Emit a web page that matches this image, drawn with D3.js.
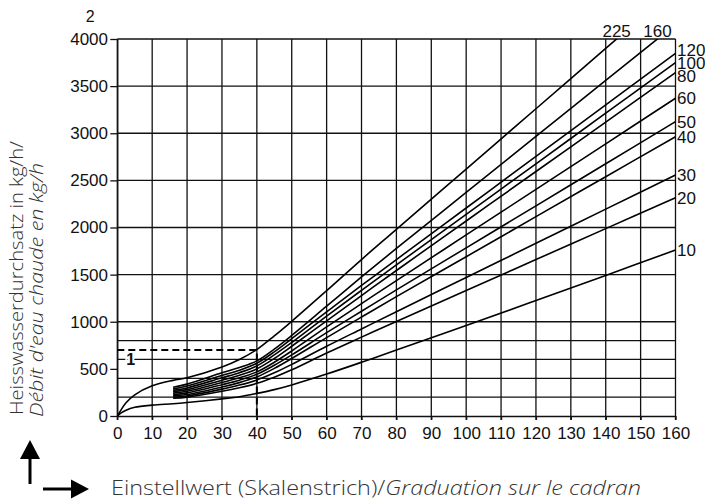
<!DOCTYPE html>
<html>
<head>
<meta charset="utf-8">
<script src="https://d3js.org/d3.v7.min.js"></script>
<style>
  body { margin: 0; background: #fff; }
  .num { font-family: "Liberation Sans", Arial, sans-serif; font-size: 17px; fill: #111; }
  .title { font-family: "Open Sans", sans-serif; font-weight: 300; fill: #333; }
</style>
</head>
<body>
<svg id="chart" width="705" height="500"></svg>
<script>
var settings = [0, 1, 2.5, 5, 10, 16, 20, 30, 35, 40, 45, 50, 60, 70, 80, 100, 120, 140, 160];

// hot water flow in kg/h for each presetting (null = curve not drawn there)
var flow225 = [0, 60, 140, 225, 320, 378, 406, 520, 600, 705, 850, 1005, 1330, 1660, 1980, 2620, 3260, 3900, 4540];
var flow160 = [null, null, null, null, null, 305, 338, 458, 515, 585, 710, 855, 1165, 1475, 1778, 2372, 2966, 3560, 4154];
var flow120 = [null, null, null, null, null, 288, 318, 430, 485, 560, 680, 820, 1105, 1385, 1660, 2207, 2754, 3301, 3848];
var flow100 = [null, null, null, null, null, 272, 298, 405, 460, 532, 648, 780, 1060, 1333, 1603, 2140, 2676, 3213, 3749];
var flow80  = [null, null, null, null, null, 258, 280, 380, 432, 500, 610, 740, 1010, 1278, 1544, 2069, 2594, 3118, 3643];
var flow60  = [null, null, null, null, null, 243, 262, 355, 405, 468, 570, 690, 945, 1192, 1437, 1921, 2404, 2888, 3371];
var flow50  = [null, null, null, null, null, 228, 245, 332, 380, 442, 538, 648, 884, 1112, 1338, 1784, 2230, 2677, 3123];
var flow40  = [null, null, null, null, null, 214, 228, 308, 354, 415, 505, 610, 832, 1050, 1266, 1690, 2115, 2539, 2963];
var flow30  = [null, null, null, null, null, 201, 213, 285, 328, 382, 458, 548, 740, 924, 1107, 1470, 1832, 2195, 2557];
var flow20  = [null, null, null, null, null, 188, 200, 262, 300, 347, 412, 490, 668, 837, 1003, 1332, 1660, 1988, 2316];
var flow10  = [0, 30, 62, 92, 115, 130, 143, 182, 205, 240, 280, 330, 445, 570, 700, 960, 1225, 1492, 1761];

var curveNames = ["225", "160", "120", "100", "80", "60", "50", "40", "30", "20", "10"];
var curveFlows = [flow225, flow160, flow120, flow100, flow80, flow60, flow50, flow40, flow30, flow20, flow10];

var xTicks = d3.range(0, 161, 10);
var yTicks = [0, 500, 1000, 1500, 2000, 2500, 3000, 3500, 4000];
var yGrid = [200, 400, 600, 800, 1000, 1500, 2000, 2500, 3000, 3500, 4000];

// example reading "1": setting 40 -> 700 kg/h
var exampleSetting = 40;
var exampleFlow = 700;

var svgWidth = 705, svgHeight = 500;
var margin = { top: 39, right: 29.5, bottom: 84, left: 117.3 };
var width = svgWidth - margin.left - margin.right;
var height = svgHeight - margin.top - margin.bottom;

var svg = d3.select("#chart");
var g = svg.append("g").attr("transform", `translate(${margin.left}, ${margin.top})`);

var x = d3.scaleLinear().domain([0, 160]).range([0, width]);
var y = d3.scaleLinear().domain([0, 4000]).range([height, 0]);

// grid
g.append("g").selectAll("line").data(xTicks).enter().append("line")
  .attr("x1", d => x(d)).attr("x2", d => x(d))
  .attr("y1", y(0) + 4).attr("y2", y(4000))
  .attr("stroke", "#111").attr("stroke-width", 1.3);

g.append("g").selectAll("line").data(yGrid).enter().append("line")
  .attr("x1", x(0)).attr("x2", x(160))
  .attr("y1", d => y(d)).attr("y2", d => y(d))
  .attr("stroke", "#111").attr("stroke-width", 1.3);

// axes
var leftAxis = d3.axisLeft(y).tickValues(yTicks).tickFormat(d3.format("d"))
  .tickSize(7).tickSizeOuter(0).tickPadding(2.3);
var bottomAxis = d3.axisBottom(x).tickValues(xTicks).tickFormat(d3.format("d"))
  .tickSize(4).tickSizeOuter(0).tickPadding(7);

var ya = g.append("g").call(leftAxis);
var xa = g.append("g").attr("transform", `translate(0, ${height})`).call(bottomAxis);
[ya, xa].forEach(function(a) {
  a.selectAll("path, line").attr("stroke", "#111").attr("stroke-width", 1.3);
  a.selectAll("text").attr("class", "num").attr("fill", null);
  a.attr("font-family", null).attr("font-size", null);
});

g.append("text").attr("class", "num")
  .attr("x", -27).attr("y", -17)
  .attr("text-anchor", "middle")
  .style("font-size", "16px")
  .text("2");

// curves
g.append("clipPath").attr("id", "plotClip")
  .append("rect").attr("x", 0).attr("y", 0).attr("width", width).attr("height", height);

var line = d3.line()
  .defined(d => d[1] != null)
  .x(d => x(d[0]))
  .y(d => y(d[1]))
  .curve(d3.curveCatmullRom.alpha(0.5));

var curves = curveNames.map(function(name, i) {
  return { name: name, pts: settings.map((s, j) => [s, curveFlows[i][j]]) };
});

g.append("g").attr("clip-path", "url(#plotClip)")
  .selectAll("path").data(curves).enter().append("path")
  .attr("d", d => line(d.pts))
  .attr("fill", "none")
  .attr("stroke", "#000")
  .attr("stroke-width", 1.6);

// dashed example reading
g.append("path")
  .attr("d", `M${x(0)},${y(exampleFlow)}H${x(exampleSetting)}V${y(0) + 4}`)
  .attr("fill", "none")
  .attr("stroke", "#000")
  .attr("stroke-width", 2)
  .attr("stroke-dasharray", "7,4");

g.append("text").attr("class", "num")
  .attr("x", x(0) + 13.5).attr("y", y(600) + 6)
  .attr("text-anchor", "middle")
  .attr("stroke", "#fff").attr("stroke-width", 4).attr("paint-order", "stroke")
  .style("font-size", "16px").style("font-weight", "bold")
  .text("1");

// curve labels: top exits get a label above the frame, the rest at the right
var topLabels = [], sideLabels = [];
curves.forEach(function(c) {
  var last = c.pts[c.pts.length - 1];
  if (last[1] > 4000) {
    for (var k = 1; k < c.pts.length; k++) {
      var a = c.pts[k - 1], b = c.pts[k];
      if (a[1] != null && a[1] <= 4000 && b[1] > 4000) {
        var s = a[0] + (4000 - a[1]) / (b[1] - a[1]) * (b[0] - a[0]);
        topLabels.push({ name: c.name, x: x(s) });
        break;
      }
    }
  } else {
    sideLabels.push({ name: c.name, y: y(last[1]) });
  }
});

// spread crowded side labels apart
var gap = 13;
for (var it = 0; it < 50; it++) {
  for (var k = 1; k < sideLabels.length; k++) {
    var d = sideLabels[k].y - sideLabels[k - 1].y;
    if (d < gap) {
      var push = (gap - d) / 2;
      sideLabels[k].y += push;
      sideLabels[k - 1].y -= push;
    }
  }
}

g.selectAll(".topLabel").data(topLabels).enter().append("text")
  .attr("class", "num")
  .attr("x", d => d.x).attr("y", -2.5)
  .attr("text-anchor", "middle")
  .text(d => d.name);

g.selectAll(".sideLabel").data(sideLabels).enter().append("text")
  .attr("class", "num")
  .attr("x", width + 1.5).attr("y", d => d.y)
  .attr("dy", "0.35em")
  .text(d => d.name);

// axis titles
var yt = svg.append("g").attr("class", "title").style("font-size", "19px");
yt.append("text").attr("transform", "translate(23, 415) rotate(-90)")
  .attr("textLength", 274).attr("lengthAdjust", "spacingAndGlyphs")
  .text("Heisswasserdurchsatz in kg/h/");
yt.append("text").attr("transform", "translate(43, 417) rotate(-90)")
  .attr("textLength", 254).attr("lengthAdjust", "spacingAndGlyphs")
  .style("font-style", "italic")
  .text("Débit d'eau chaude en kg/h");

var xt = svg.append("text").attr("class", "title")
  .attr("x", 111).attr("y", 495)
  .attr("textLength", 530).attr("lengthAdjust", "spacingAndGlyphs")
  .style("font-size", "20px");
xt.append("tspan").text("Einstellwert (Skalenstrich)/");
xt.append("tspan").style("font-style", "italic").text("Graduation sur le cadran");

// direction arrows
svg.append("path")
  .attr("d", "M30,484V456")
  .attr("stroke", "#000").attr("stroke-width", 3);
svg.append("path")
  .attr("d", "M20,459L40,459L30,440Z").attr("fill", "#000");
svg.append("path")
  .attr("d", "M43,489H74")
  .attr("stroke", "#000").attr("stroke-width", 3);
svg.append("path")
  .attr("d", "M71,479.5L71,498.5L89,489Z").attr("fill", "#000");
</script>
</body>
</html>
